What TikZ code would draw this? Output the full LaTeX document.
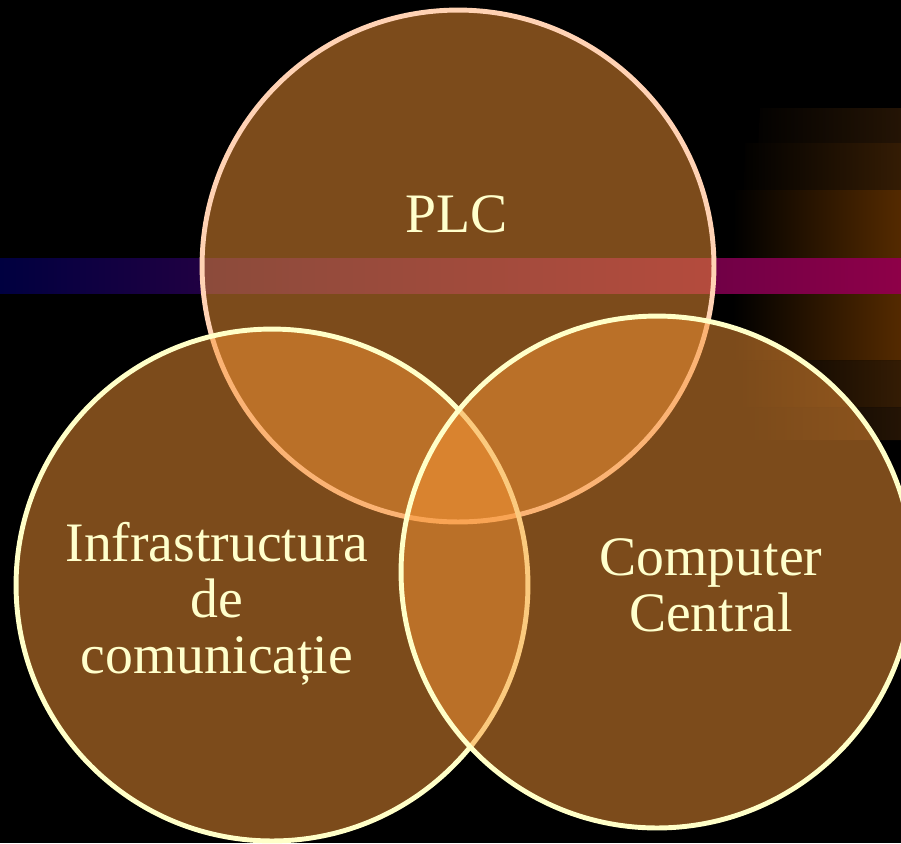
\documentclass[tikz,border=0pt]{standalone}
\usepackage{fontspec}
\setmainfont{Liberation Serif}
\usepackage{xcolor}
\definecolor{ringfill}{RGB}{248,150,54}
\definecolor{ringpeach}{RGB}{255,210,180}
\definecolor{ringcream}{RGB}{255,255,200}
\definecolor{txtcream}{RGB}{255,255,204}
\definecolor{barnavy}{RGB}{0,0,64}
\definecolor{barmagenta}{RGB}{142,0,72}
\definecolor{glowa}{RGB}{36,20,5}
\definecolor{glowb}{RGB}{52,28,4}
\definecolor{glowc}{RGB}{84,42,0}
% one glow band: top-left x, top y, bottom-left x, bottom y, colour
\newcommand\glow[5]{\fill[left color=black,right color=#5] (#1,#2) -- (901,#2) -- (901,#4) -- (#3,#4) -- cycle;}

\tikzset{
  ring/.style={circle, inner sep=0pt, minimum size=10.24cm, fill=ringfill,
    fill opacity=0.5, line width=2.8pt},
  lbl/.style={text=txtcream, font=\fontsize{31.7}{31.9}\selectfont,
    align=center, inner sep=0pt}
}

\begin{document}
\begin{tikzpicture}[x=0.02cm,y=-0.02cm]
  \useasboundingbox (0,0) rectangle (901,843);
  \clip (0,0) rectangle (901,843);
  \fill[black] (0,0) rectangle (901,843);
  % glow on the right
  \glow{760}{108}{743}{440}{glowa}
  \glow{745}{143}{738}{407}{glowb}
  \glow{735}{190}{732}{360}{glowc}
  % bar
  \fill[left color=barnavy,right color=barmagenta] (0,258) rectangle (901,293);
  % circles
  \node[ring, draw=ringpeach] (plc) at (458,266) {};
  \node[ring, draw=ringcream] (infra) at (272,585) {};
  \node[ring, draw=ringcream] (comp) at (657,572) {};
  % labels
  \node[lbl, anchor=base] (plctxt) at (457,232) {PLC};
  \node[lbl] (infratxt) at (217,604) {Infrastructura\\de\\comunicație};
  \node[lbl] (comptxt) at (711,585) {Computer\\Central};
\end{tikzpicture}
\end{document}
